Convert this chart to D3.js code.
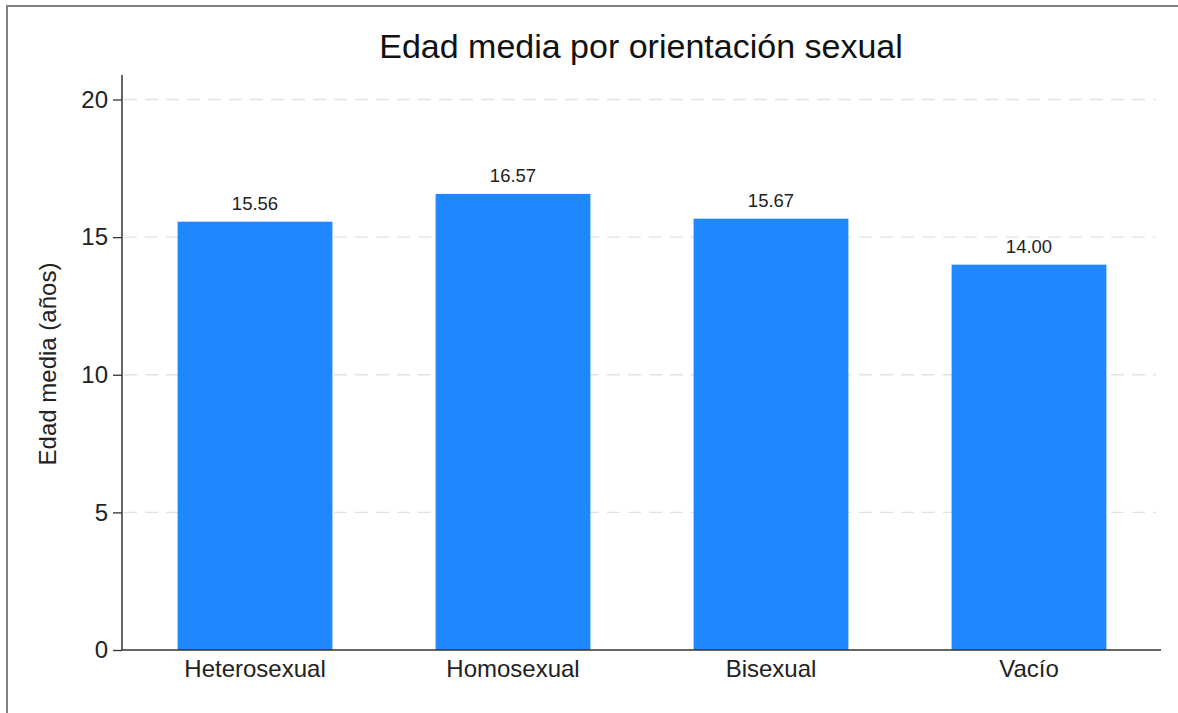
<!DOCTYPE html>
<html><head><meta charset="utf-8">
<script src="https://cdn.jsdelivr.net/npm/d3@7"></script>
<style>body{margin:0;background:#fff;}svg{display:block;font-family:"Liberation Sans",Arial,sans-serif;}</style>
</head><body>
<svg id="c" width="1178" height="713"></svg>
<script>
const categories = ["Heterosexual","Homosexual","Bisexual","Vacío"];
const values = [15.56, 16.57, 15.67, 14.00];
const yTicks = [0,5,10,15,20];
const title = "Edad media por orientación sexual";
const yLabel = "Edad media (años)";

const svg = d3.select("#c");
svg.append("rect").attr("x",7).attr("y",6).attr("width",1178).attr("height",713)
  .attr("fill","#fff").attr("stroke","#808080").attr("stroke-width",2);

const x = d3.scaleBand().domain(categories).range([126,1158]).paddingInner(0.4).paddingOuter(0.2);
const y = d3.scaleLinear().domain([0,20]).range([650,99.5]);

// gridlines
svg.append("g").selectAll("line").data(yTicks.filter(d=>d>0)).join("line")
  .attr("x1",124).attr("x2",1156).attr("y1",d=>y(d)).attr("y2",d=>y(d))
  .attr("stroke","#e2e2e2").attr("stroke-width",1.3).attr("stroke-dasharray","13,8");

// bars
svg.append("g").selectAll("rect").data(values).join("rect")
  .attr("x",(d,i)=>x(categories[i])).attr("width",x.bandwidth())
  .attr("y",d=>y(d)).attr("height",d=>y(0)-y(d)).attr("fill","#1f87ff");

// value labels
svg.append("g").selectAll("text").data(values).join("text")
  .attr("x",(d,i)=>x(categories[i])+x.bandwidth()/2).attr("y",d=>y(d)-12)
  .attr("text-anchor","middle").attr("font-size",18.5).attr("fill","#222")
  .text(d=>d.toFixed(2));

// y axis
const ya = svg.append("g").attr("transform","translate(122,0)")
  .call(d3.axisLeft(y).tickValues(yTicks).tickSize(9).tickPadding(5).tickFormat(d3.format("d")));
ya.select(".domain").attr("d","M0,75V650").attr("stroke","#333").attr("stroke-width",1.5);
ya.selectAll(".tick line").attr("stroke","#333").attr("stroke-width",1.3);
ya.selectAll(".tick text").attr("font-size",24).attr("fill","#222").attr("font-family","Liberation Sans, Arial, sans-serif");

// x axis
const xa = svg.append("g").attr("transform","translate(0,650)")
  .call(d3.axisBottom(x).tickSize(0).tickPadding(10));
xa.select(".domain").attr("d","M122,0H1161").attr("stroke","#333").attr("stroke-width",1.5);
xa.selectAll(".tick text").attr("font-size",24).attr("fill","#222").attr("font-family","Liberation Sans, Arial, sans-serif");

// title
svg.append("text").attr("x",641).attr("y",58).attr("text-anchor","middle")
  .attr("font-size",34).attr("fill","#111").text(title);

// y label
svg.append("text").attr("transform","translate(56,364) rotate(-90)").attr("text-anchor","middle")
  .attr("font-size",24).attr("fill","#222").text(yLabel);
</script>
</body></html>
